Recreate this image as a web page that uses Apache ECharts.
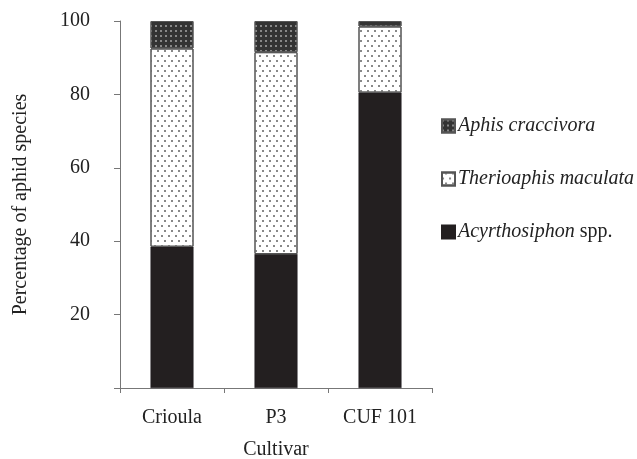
<!DOCTYPE html>
<html><head><meta charset="utf-8">
<script src="https://cdn.jsdelivr.net/npm/echarts@6/dist/echarts.min.js"></script>
<style>html,body{margin:0;padding:0;background:#fff}#c{width:637px;height:459px}</style>
</head><body><div id="c"></div>
<script>
const categories = ['Crioula', 'P3', 'CUF 101'];
const acyrthosiphon = [38.5, 36.5, 80.5];
const therioaphis = [54, 55, 18];
const aphis = [7.5, 8.5, 1.5];
const yTicks = [20, 40, 60, 80, 100];

const font = 'Liberation Serif';
const fs = 20;
const chart = echarts.init(document.getElementById('c'));
const barW = 43;
chart.setOption({
  animation: false,
  backgroundColor: '#fff',
  textStyle: {fontFamily: font},
  grid: {left: 120, right: 205, top: 21, bottom: 71, outerBoundsMode: 'none', containLabel: false},
  legend: {
    orient: 'vertical', left: 436, top: 111, itemGap: 33,
    itemWidth: 13, itemHeight: 13, icon: 'rect',
    data: ['Aphis', 'Therio', 'Acyrtho'],
    formatter: function (n) {
      if (n === 'Aphis') return '{i|Aphis craccivora}';
      if (n === 'Therio') return '{i|Therioaphis maculata}';
      return '{i|Acyrthosiphon} {n|spp.}';
    },
    textStyle: {
      fontFamily: font, fontSize: fs, color: '#222', padding: [0,0,0,-2],
      rich: {i: {fontStyle: 'italic', fontFamily: font, fontSize: fs, color: '#222'},
             n: {fontFamily: font, fontSize: fs, color: '#222'}}
    }
  },
  xAxis: {
    type: 'category', data: categories,
    name: 'Cultivar', nameLocation: 'middle', nameGap: 52,
    nameTextStyle: {fontFamily: font, fontSize: fs, color: '#222'},
    axisLine: {lineStyle: {color: '#777', width: 1}},
    axisTick: {show: true, length: 5, lineStyle: {color: '#777'}},
    axisLabel: {fontFamily: font, fontSize: fs, color: '#222', margin: 20}
  },
  yAxis: {
    type: 'value', min: 0, max: 100, interval: 20,
    name: 'Percentage of aphid species', nameLocation: 'middle', nameGap: 89,
    nameTextStyle: {fontFamily: font, fontSize: fs, color: '#222'},
    axisLine: {show: true, lineStyle: {color: '#777', width: 1}},
    axisTick: {show: true, length: 6, lineStyle: {color: '#777'}},
    splitLine: {show: false},
    axisLabel: {fontFamily: font, fontSize: fs, color: '#222', margin: 30,
      formatter: v => yTicks.includes(v) ? String(v) : ''}
  },
  series: [
    {name: 'Acyrtho', type: 'bar', stack: 's', data: acyrthosiphon, barWidth: barW,
     itemStyle: {color: '#231f20', borderColor: '#231f20', borderWidth: 0.5}},
    {name: 'Therio', type: 'bar', stack: 's', data: therioaphis, barWidth: barW,
     itemStyle: {color: '#ffffff', borderColor: '#555', borderWidth: 1,
       decal: {symbol: 'rect', symbolSize: 1, color: '#888', dashArrayX: [[1.5, 4.5], [0, 3, 1.5, 1.5]], dashArrayY: [1.5, 3], rotation: 0}}},
    {name: 'Aphis', type: 'bar', stack: 's', data: aphis, barWidth: barW,
     itemStyle: {color: '#333', borderColor: '#555', borderWidth: 1,
       decal: {symbol: 'rect', symbolSize: 1, color: '#888', dashArrayX: [[1.5, 2.5]], dashArrayY: [1.5, 2.5], rotation: 0}}}
  ]
});
</script></body></html>
